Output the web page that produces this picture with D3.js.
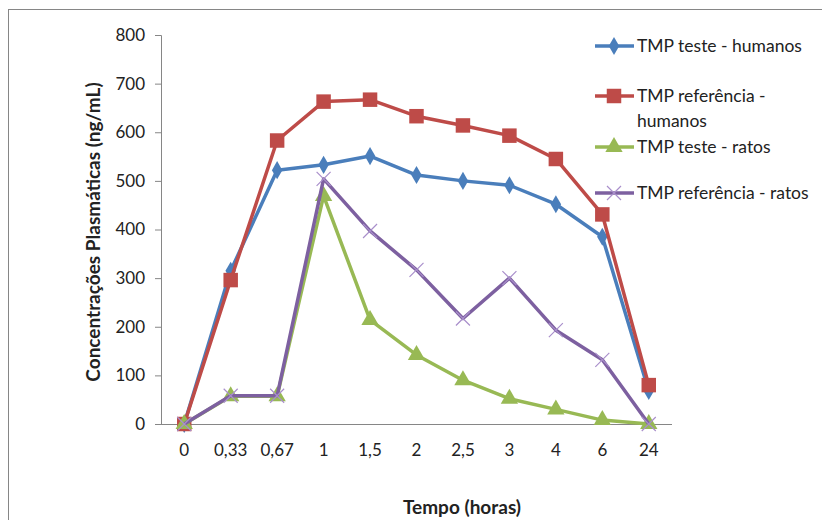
<!DOCTYPE html>
<html>
<head>
<meta charset="utf-8">
<script src="https://cdn.jsdelivr.net/npm/d3@7"></script>
<style>
  body { margin: 0; background: #fff; }
  text { font-family: Lato, "Open Sans", sans-serif; fill: #222; }
</style>
</head>
<body>
<div id="wrapper"></div>
<script>
const categories = ['0', '0,33', '0,67', '1', '1,5', '2', '2,5', '3', '4', '6', '24'];
const testeHumanos = [0, 315, 522, 533, 551, 512, 500, 491, 452, 385, 68];
const referenciaHumanos = [0, 296, 583, 663, 667, 633, 614, 593, 545, 431, 80];
const testeRatos = [0, 57, 57, 469, 214, 142, 90, 52, 30, 8, 0];
const referenciaRatos = [0, 58, 58, 504, 397, 317, 217, 300, 193, 132, 0];
const yTicks = [0, 100, 200, 300, 400, 500, 600, 700, 800];

const seriesList = [
  { name: ['TMP teste - humanos'], values: testeHumanos, color: '#4A7EBB', symbol: 'diamond' },
  { name: ['TMP referência  -', 'humanos'], values: referenciaHumanos, color: '#BE4B48', symbol: 'square' },
  { name: ['TMP teste - ratos'], values: testeRatos, color: '#98B954', symbol: 'triangle' },
  { name: ['TMP referência  - ratos'], values: referenciaRatos, color: '#7D60A0', symbol: 'cross' },
];

const dimensions = {
  width: 822,
  height: 520,
  margin: { top: 35, right: 150, bottom: 96, left: 161 },
};
dimensions.boundedWidth = 672 - dimensions.margin.left;
dimensions.boundedHeight = dimensions.height - dimensions.margin.top - dimensions.margin.bottom;

const wrapper = d3.select('#wrapper')
  .append('svg')
  .attr('width', dimensions.width)
  .attr('height', dimensions.height);

// outer frame
wrapper.append('rect')
  .attr('x', 8.5).attr('y', 9.5)
  .attr('width', 830).attr('height', 530)
  .attr('fill', 'none')
  .attr('stroke', '#868686')
  .attr('stroke-width', 1);

const bounds = wrapper.append('g')
  .attr('transform', `translate(${dimensions.margin.left}, ${dimensions.margin.top})`);

const xScale = d3.scaleBand()
  .domain(categories)
  .range([0, dimensions.boundedWidth]);

const yScale = d3.scaleLinear()
  .domain([0, 800])
  .range([dimensions.boundedHeight, 0]);

const xPos = (d, i) => xScale(categories[i]) + xScale.bandwidth() / 2;

// y axis
const yAxis = bounds.append('g')
  .call(d3.axisLeft(yScale).tickValues(yTicks).tickSize(6).tickPadding(10));
yAxis.selectAll('text').style('font-size', '17px').attr('fill', '#222');
yAxis.selectAll('line').attr('stroke', '#868686');
yAxis.select('.domain').attr('stroke', '#868686').attr('d', `M-6,0.5H0.5V${dimensions.boundedHeight}`);

// x axis (no ticks)
const xAxis = bounds.append('g')
  .attr('transform', `translate(0, ${dimensions.boundedHeight})`)
  .call(d3.axisBottom(xScale).tickSize(0).tickPadding(20));
xAxis.selectAll('text').style('font-size', '17px').attr('fill', '#222');
xAxis.select('.domain').attr('stroke', '#868686').attr('d', `M0,0.5H${dimensions.boundedWidth}`);

const line = d3.line()
  .x(xPos)
  .y(d => yScale(d));

const symbolType = {
  diamond: d3.symbolDiamond,
  square: d3.symbolSquare,
  triangle: d3.symbolTriangle,
};
const symbolSize = { diamond: 95, square: 210, triangle: 130 };

function drawMarker(g, s, x, y) {
  if (s.symbol === 'cross') {
    g.append('path')
      .attr('d', `M${x - 7},${y - 7}L${x + 7},${y + 7}M${x + 7},${y - 7}L${x - 7},${y + 7}`)
      .attr('stroke', '#A98FCB')
      .attr('stroke-width', 1.2)
      .attr('fill', 'none');
  } else {
    g.append('path')
      .attr('d', d3.symbol(symbolType[s.symbol], symbolSize[s.symbol])())
      .attr('transform', `translate(${x}, ${y})`)
      .attr('fill', s.color);
  }
}

seriesList.forEach(s => {
  const g = bounds.append('g');
  g.append('path')
    .datum(s.values)
    .attr('d', line)
    .attr('fill', 'none')
    .attr('stroke', s.color)
    .attr('stroke-width', 3.5)
    .attr('stroke-linejoin', 'round');
  s.values.forEach((v, i) => drawMarker(g, s, xPos(v, i), yScale(v)));
});

// legend
const legendY = [46, 96, 147, 193];
const legend = wrapper.append('g');
seriesList.forEach((s, i) => {
  const y = legendY[i];
  const g = legend.append('g');
  g.append('line')
    .attr('x1', 595).attr('x2', 634)
    .attr('y1', y).attr('y2', y)
    .attr('stroke', s.color)
    .attr('stroke-width', 3.5);
  drawMarker(g, s, 614, y);
  s.name.forEach((t, j) => {
    g.append('text')
      .attr('x', 637)
      .attr('y', y + 6 + j * 25)
      .style('font-size', '17.5px')
      .text(t);
  });
});

// axis titles
wrapper.append('text')
  .attr('x', 462)
  .attr('y', 514)
  .attr('text-anchor', 'middle')
  .style('font-size', '19px')
  .style('font-weight', 'bold')
  .text('Tempo (horas)');

wrapper.append('text')
  .attr('transform', 'translate(100, 232) rotate(-90)')
  .attr('text-anchor', 'middle')
  .style('font-size', '19px')
  .style('font-weight', 'bold')
  .text('Concentrações Plasmáticas (ng/mL)');
</script>
</body>
</html>
